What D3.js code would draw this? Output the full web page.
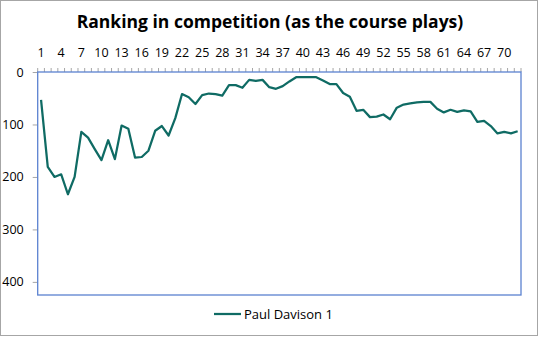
<!DOCTYPE html>
<html>
<head>
<meta charset="utf-8">
<script src="https://cdn.jsdelivr.net/npm/d3@7"></script>
<style>
  html, body { margin: 0; padding: 0; background: #fff; }
  svg { display: block; font-family: "Open Sans", "Noto Sans", sans-serif; }
</style>
</head>
<body>
<svg id="chart" width="540" height="337"></svg>
<script>
// Round-by-round ranking
const rounds = d3.range(1, 73);
const seriesName = "Paul Davison 1";
const ranking = [
  53, 181, 200, 195, 233, 200, 114, 125, 147, 168,
  130, 166, 102, 108, 163, 162, 150, 112, 103, 121,
  88, 42, 48, 61, 44, 41, 42, 45, 25, 25,
  30, 15, 17, 15, 29, 32, 27, 18, 10, 10,
  10, 10, 16, 23, 23, 40, 47, 74, 72, 86,
  85, 81, 90, 68, 62, 60, 58, 57, 57, 70,
  77, 72, 76, 73, 75, 95, 93, 103, 117, 114,
  117, 113
];
const yTicks = [0, 100, 200, 300, 400];
const xTickLabels = rounds.filter(r => (r - 1) % 3 === 0);

const svg = d3.select("#chart");
const W = 540, H = 337;
const plot = { left: 37.7, right: 521, top: 72, bottom: 295 };

// outer chart frame
svg.append("rect")
  .attr("x", 0.5).attr("y", 0.5)
  .attr("width", 537).attr("height", 335)
  .attr("fill", "#fff").attr("stroke", "#a6a6a6");

svg.append("text")
  .attr("x", 270).attr("y", 28)
  .attr("text-anchor", "middle")
  .attr("font-size", 17.5).attr("font-weight", "bold")
  .attr("fill", "#000")
  .text("Ranking in competition (as the course plays)");

const x = d3.scaleBand().domain(rounds).range([plot.left, plot.right]).padding(0);
const y = d3.scaleLinear().domain([0, 425]).range([plot.top, plot.bottom]);

// category axis along the top
const xAxis = svg.append("g")
  .attr("transform", `translate(0,${plot.top})`);
xAxis.selectAll("line.tick")
  .data(d3.range(0, rounds.length + 1))
  .join("line")
  .attr("class", "tick")
  .attr("x1", i => plot.left + i * x.step())
  .attr("x2", i => plot.left + i * x.step())
  .attr("y1", 0).attr("y2", -4)
  .attr("stroke", "#a6a6a6").attr("stroke-width", 1);
xAxis.selectAll("text")
  .data(xTickLabels)
  .join("text")
  .attr("x", d => x(d) + x.bandwidth() / 2)
  .attr("y", -15)
  .attr("text-anchor", "middle")
  .attr("font-size", 12.5)
  .attr("fill", "#000")
  .text(d => d);

// value axis (reversed: rank 1 at top)
const yAxis = svg.append("g")
  .attr("transform", `translate(${plot.left},0)`)
  .call(d3.axisLeft(y).tickValues(yTicks).tickSize(5).tickPadding(9));
yAxis.select(".domain").remove();
yAxis.selectAll(".tick line").attr("stroke", "#a6a6a6");
yAxis.selectAll(".tick text")
  .attr("font-size", 12.5)
  .attr("font-family", "\"Open Sans\", \"Noto Sans\", sans-serif")
  .attr("fill", "#000");

// plot area border
svg.append("rect")
  .attr("x", plot.left).attr("y", plot.top)
  .attr("width", plot.right - plot.left)
  .attr("height", plot.bottom - plot.top)
  .attr("fill", "none")
  .attr("stroke", "#5b82d0").attr("stroke-width", 1.3);

const line = d3.line()
  .x((d, i) => x(rounds[i]) + x.bandwidth() / 2)
  .y(d => y(d));

svg.append("path")
  .datum(ranking)
  .attr("d", line)
  .attr("fill", "none")
  .attr("stroke", "#0f6b64")
  .attr("stroke-width", 2.25)
  .attr("stroke-linejoin", "round");

// legend
const lg = svg.append("g").attr("transform", "translate(214,314)");
lg.append("line")
  .attr("x1", 0).attr("x2", 27).attr("y1", 0).attr("y2", 0)
  .attr("stroke", "#0f6b64").attr("stroke-width", 2.25);
lg.append("text")
  .attr("x", 30).attr("y", 0)
  .attr("dy", "0.35em")
  .attr("font-size", 13)
  .attr("fill", "#000")
  .text(seriesName);
</script>
</body>
</html>
